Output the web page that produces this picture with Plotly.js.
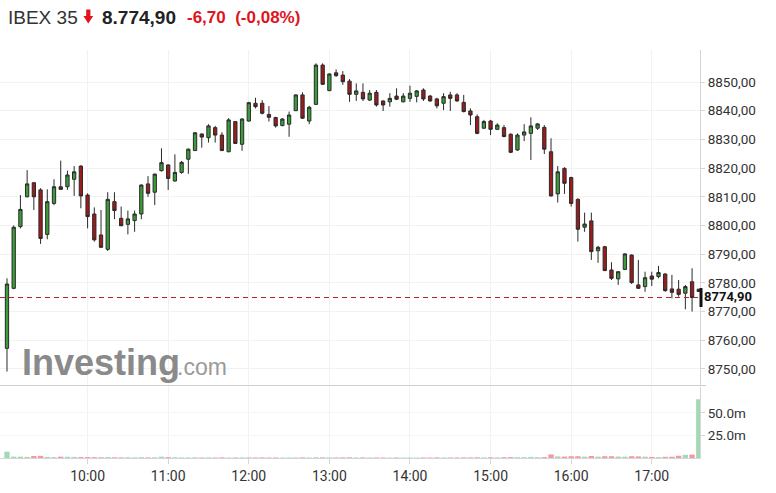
<!DOCTYPE html>
<html><head><meta charset="utf-8">
<script src="https://cdn.plot.ly/plotly-3.0.1.min.js"></script>
<style>html,body{margin:0;padding:0;background:#fff;}#chart{width:776px;height:493px;}</style>
</head><body><div id="chart"></div>
<script>
const times = ['09:00','09:05','09:10','09:15','09:20','09:25','09:30','09:35','09:40','09:45','09:50','09:55',
'10:00','10:05','10:10','10:15','10:20','10:25','10:30','10:35','10:40','10:45','10:50','10:55',
'11:00','11:05','11:10','11:15','11:20','11:25','11:30','11:35','11:40','11:45','11:50','11:55',
'12:00','12:05','12:10','12:15','12:20','12:25','12:30','12:35','12:40','12:45','12:50','12:55',
'13:00','13:05','13:10','13:15','13:20','13:25','13:30','13:35','13:40','13:45','13:50','13:55',
'14:00','14:05','14:10','14:15','14:20','14:25','14:30','14:35','14:40','14:45','14:50','14:55',
'15:00','15:05','15:10','15:15','15:20','15:25','15:30','15:35','15:40','15:45','15:50','15:55',
'16:00','16:05','16:10','16:15','16:20','16:25','16:30','16:35','16:40','16:45','16:50','16:55',
'17:00','17:05','17:10','17:15','17:20','17:25','17:30','17:35'];
const openP = [8757.2,8778.1,8799.6,8810.0,8814.9,8812.4,8796.9,8807.7,8813.5,8813.5,8816.1,8820.7,
8810.6,8804.0,8796.7,8791.7,8808.3,8802.5,8800.4,8801.7,8804.0,8814.5,8811.6,8819.1,
8821.1,8815.5,8818.5,8823.1,8826.1,8831.9,8830.6,8834.1,8831.5,8825.7,8836.2,8828.3,
8836.4,8842.6,8842.6,8838.7,8837.6,8834.8,8835.3,8840.0,8845.5,8836.4,8842.2,8855.9,
8847.0,8853.2,8852.4,8850.3,8845.7,8846.4,8843.7,8846.4,8843.4,8843.1,8845.1,8843.1,
8844.3,8845.0,8847.2,8845.1,8844.1,8842.6,8845.5,8845.5,8842.9,8839.9,8837.9,8833.9,
8836.4,8833.5,8834.1,8831.8,8826.3,8831.5,8832.1,8833.9,8834.2,8825.7,8811.0,8819.9,
8816.7,8809.1,8799.4,8801.6,8791.2,8792.6,8784.5,8781.4,8784.7,8789.7,8779.3,8778.7,
8782.4,8782.2,8783.1,8777.9,8777.8,8776.4,8780.4,8777.8];
const highP = [8781.6,8800.0,8810.6,8819.3,8815.0,8813.0,8812.6,8816.1,8822.6,8819.1,8820.7,8821.0,
8811.2,8806.3,8805.4,8811.6,8811.6,8806.6,8805.2,8805.2,8814.3,8817.2,8818.1,8826.9,
8821.3,8824.8,8822.5,8826.8,8832.5,8832.0,8835.3,8834.7,8832.5,8837.4,8836.4,8837.4,
8843.1,8844.5,8843.7,8841.6,8837.9,8837.4,8839.7,8845.7,8846.4,8841.7,8856.5,8856.5,
8853.0,8854.4,8853.8,8851.0,8849.5,8849.5,8847.2,8847.2,8843.6,8846.1,8847.8,8846.1,
8848.7,8847.2,8847.8,8845.5,8844.5,8846.1,8846.6,8846.1,8845.5,8840.8,8838.7,8836.8,
8836.8,8835.6,8835.0,8832.1,8832.1,8835.3,8837.7,8835.6,8835.0,8830.4,8820.7,8820.3,
8817.0,8809.5,8804.5,8804.5,8792.9,8792.9,8787.2,8784.1,8790.3,8789.9,8788.0,8783.9,
8783.9,8785.9,8783.3,8782.8,8781.0,8779.3,8785.1,8777.9];
const lowP = [8749.1,8777.8,8799.0,8809.8,8805.4,8793.6,8795.2,8807.1,8812.4,8812.4,8810.3,8806.0,
8799.0,8794.4,8792.2,8791.1,8802.2,8799.8,8796.9,8797.8,8802.2,8810.0,8807.1,8818.8,
8812.4,8815.3,8818.0,8818.0,8826.0,8827.1,8828.9,8828.9,8826.0,8825.5,8828.4,8826.0,
8836.2,8840.8,8838.7,8836.2,8834.1,8834.6,8830.9,8839.9,8837.1,8835.3,8842.0,8849.0,
8846.8,8851.8,8849.0,8843.1,8843.4,8843.4,8843.4,8841.4,8839.9,8841.4,8843.7,8842.9,
8843.1,8842.9,8843.4,8843.1,8840.8,8840.2,8839.9,8843.1,8839.4,8835.0,8831.8,8833.6,
8831.5,8833.3,8830.7,8825.2,8826.0,8829.4,8822.8,8833.3,8824.9,8810.1,8808.0,8811.0,
8806.6,8794.4,8797.8,8788.0,8787.0,8784.1,8781.0,8779.3,8784.5,8779.6,8778.0,8776.9,
8778.9,8781.6,8776.9,8774.6,8775.2,8770.8,8770.0,8776.9];
const closeP = [8779.6,8799.4,8805.6,8814.5,8810.0,8795.5,8808.3,8813.5,8812.6,8817.6,8818.7,8810.3,
8803.1,8795.0,8792.4,8809.1,8805.2,8799.9,8802.3,8804.0,8814.1,8811.2,8817.9,8821.9,
8816.4,8818.5,8822.0,8826.6,8832.3,8830.8,8834.7,8831.5,8826.1,8836.8,8828.6,8837.1,
8842.8,8841.4,8839.1,8837.7,8834.7,8837.1,8838.5,8845.5,8837.4,8841.2,8855.9,8849.2,
8852.8,8852.2,8850.1,8845.7,8846.9,8844.1,8846.1,8842.0,8842.0,8844.3,8844.0,8845.1,
8846.1,8846.9,8844.1,8843.4,8841.7,8844.9,8844.3,8843.4,8839.7,8838.5,8832.1,8836.2,
8833.5,8835.0,8831.0,8825.5,8831.5,8832.6,8834.7,8835.4,8826.6,8810.3,8818.7,8814.7,
8807.7,8798.7,8800.5,8790.9,8792.4,8784.3,8781.6,8783.9,8790.1,8780.1,8778.1,8781.8,
8781.3,8783.6,8777.3,8776.7,8776.0,8778.7,8774.9,8777.0];
const volumeM = [7,1.5,1.5,1.2,2.2,2.4,1.2,1.0,1.5,1.4,1.2,1.0,
1.0,0.9,0.8,1.0,0.8,0.7,0.8,0.7,0.9,0.7,0.8,1.5,
1.0,0.8,0.7,0.7,0.8,0.6,0.7,0.6,0.7,0.6,0.6,0.7,
0.8,0.6,0.7,0.6,0.6,0.5,0.6,0.7,0.7,0.6,0.8,0.7,
0.7,0.6,0.7,0.8,0.6,0.7,0.6,0.6,0.6,0.5,0.6,0.5,
0.6,0.5,0.6,0.6,0.7,0.6,0.6,0.6,0.7,0.7,0.8,0.7,
0.8,0.7,0.9,1.0,0.9,0.9,1.2,0.9,1.0,4.0,1.8,1.6,
2.0,2.0,1.5,2.2,1.5,2.0,2.0,1.6,1.5,2.0,1.8,1.5,
1.2,1.0,1.3,1.4,2.5,3.5,3.8,65];
const priceTicks = [8750,8760,8770,8780,8790,8800,8810,8820,8830,8840,8850];
const volTicks = [25,50];
const volTickText = ['25.0m','50.0m'];
const hourTicks = ['10:00','11:00','12:00','13:00','14:00','15:00','16:00','17:00'];
const lastPrice = 8774.90;
const lastPriceText = '8774,90';
const headerName = 'IBEX 35';
const headerPrice = '8.774,90';
const headerChange = '-6,70  (-0,08%)';

const DAY = '2024-01-02 ';
const x = times.map(t => DAY + t);
const vol = volumeM.map(v => v * 1e6);
const UP = '#3a9d3a', DOWN = '#9e1b1b';
const volColors = closeP.map((c, i) => (c >= openP[i] ? '#a5d9b6' : '#f09aa5'));
volColors[volColors.length - 1] = '#a5d9b6';

const W = 776, H = 493, ML = 0, MR = 76, MT = 50, MB = 35;
const PW = W - ML - MR, PH = H - MT - MB;
const px = v => (v - ML) / PW;
const py = v => (H - MB - v) / PH;

const traces = [
  {
    type: 'candlestick', x: x, open: openP, high: highP, low: lowP, close: closeP,
    xaxis: 'x', yaxis: 'y',
    increasing: {line: {color: '#2a2a2a', width: 1}, fillcolor: UP},
    decreasing: {line: {color: '#2a2a2a', width: 1}, fillcolor: DOWN},
    whiskerwidth: 0, hoverinfo: 'skip', showlegend: false
  },
  {
    type: 'bar', x: x, y: vol, xaxis: 'x', yaxis: 'y2',
    marker: {color: volColors, line: {width: 0}}, width: 4 * 60 * 1000,
    hoverinfo: 'skip', showlegend: false
  }
];

const arrowPath = 'M ' + px(86.2) + ',' + py(9.5) + ' L ' + px(90.4) + ',' + py(9.5) +
  ' L ' + px(90.4) + ',' + py(16) + ' L ' + px(93.2) + ',' + py(16) +
  ' L ' + px(88.3) + ',' + py(23.5) + ' L ' + px(83.4) + ',' + py(16) +
  ' L ' + px(86.2) + ',' + py(16) + ' Z';

const layout = {
  width: W, height: H,
  margin: {l: ML, r: MR, t: MT, b: MB, pad: 0},
  paper_bgcolor: '#fff', plot_bgcolor: '#fff',
  separators: ',.',
  showlegend: false,
  xaxis: {
    type: 'date', anchor: 'y2',
    range: [DAY + '08:54:48', DAY + '17:35:54'],
    tickvals: hourTicks.map(t => DAY + t), ticktext: hourTicks,
    showgrid: true, gridcolor: '#f2f2f2', gridwidth: 1,
    showline: true, linecolor: '#d6d6d6', linewidth: 1,
    ticks: 'outside', ticklen: 5, tickcolor: '#d6d6d6',
    tickfont: {family: 'Roboto, Arial, sans-serif', size: 14, color: '#333'},
    rangeslider: {visible: false}, zeroline: false, fixedrange: true
  },
  yaxis: {
    domain: [0.179, 1], side: 'right', anchor: 'x',
    range: [8744.43, 8861.15],
    tickvals: priceTicks, tickformat: '.2f',
    showgrid: true, gridcolor: '#f2f2f2', gridwidth: 1,
    showline: true, linecolor: '#d6d6d6', linewidth: 1,
    ticks: 'outside', ticklen: 4, tickcolor: '#d6d6d6',
    tickfont: {family: 'Roboto, Arial, sans-serif', size: 13.5, color: '#333'},
    zeroline: false, fixedrange: true
  },
  yaxis2: {
    domain: [0, 0.174], side: 'right', anchor: 'x',
    range: [0, 78.6e6],
    tickvals: volTicks.map(v => v * 1e6), ticktext: volTickText,
    showgrid: true, gridcolor: '#f5f5f5', gridwidth: 1,
    showline: true, linecolor: '#d6d6d6', linewidth: 1,
    ticks: 'outside', ticklen: 4, tickcolor: '#d6d6d6',
    tickfont: {family: 'Roboto, Arial, sans-serif', size: 13.5, color: '#333'},
    zeroline: false, fixedrange: true
  },
  bargap: 0.3,
  shapes: [
    {type: 'line', xref: 'paper', yref: 'paper', x0: 0, x1: px(706), y0: py(385.5), y1: py(385.5),
     line: {color: '#cfcfcf', width: 1}},
    {type: 'line', xref: 'paper', yref: 'y', x0: 0, x1: 1, y0: lastPrice, y1: lastPrice,
     line: {color: '#b3202c', width: 1, dash: '5px,4px'}},
    {type: 'rect', xref: 'paper', yref: 'y', x0: px(699.5), x1: px(702.5),
     y0: lastPrice - 3.3, y1: lastPrice + 3.3, fillcolor: '#111', line: {width: 0}},
    {type: 'path', xref: 'paper', yref: 'paper', path: arrowPath, fillcolor: '#e0141e', line: {width: 0}}
  ],
  annotations: [
    {xref: 'paper', yref: 'paper', x: px(6), y: py(17), xanchor: 'left', yanchor: 'middle', showarrow: false,
     text: headerName, font: {family: 'Liberation Sans, Arial, sans-serif', size: 19, color: '#333'}},
    {xref: 'paper', yref: 'paper', x: px(100), y: py(17), xanchor: 'left', yanchor: 'middle', showarrow: false,
     text: '<b>' + headerPrice + '</b>', font: {family: 'Liberation Sans, Arial, sans-serif', size: 19, color: '#222'}},
    {xref: 'paper', yref: 'paper', x: px(185), y: py(17), xanchor: 'left', yanchor: 'middle', showarrow: false,
     text: '<b>' + headerChange + '</b>', font: {family: 'Liberation Sans, Arial, sans-serif', size: 17, color: '#e0141e'}},
    {xref: 'paper', yref: 'y', x: px(703), y: lastPrice + 0.4, xanchor: 'left', yanchor: 'middle', showarrow: false,
     text: '<b>' + lastPriceText + '</b>', bgcolor: '#fff', borderpad: 0,
     font: {family: 'Roboto, Arial, sans-serif', size: 13, color: '#111'}},
    {xref: 'paper', yref: 'paper', x: px(20), y: py(362), xanchor: 'left', yanchor: 'middle', showarrow: false,
     text: '<b>Investing</b>', font: {family: 'Liberation Sans, Arial, sans-serif', size: 36, color: '#8a8a8a'}},
    {xref: 'paper', yref: 'paper', x: px(175), y: py(367), xanchor: 'left', yanchor: 'middle', showarrow: false,
     text: '.com', font: {family: 'Liberation Sans, Arial, sans-serif', size: 23, color: '#9a9a9a'}}
  ]
};

Plotly.newPlot('chart', traces, layout, {displayModeBar: false, staticPlot: true});
</script></body></html>
